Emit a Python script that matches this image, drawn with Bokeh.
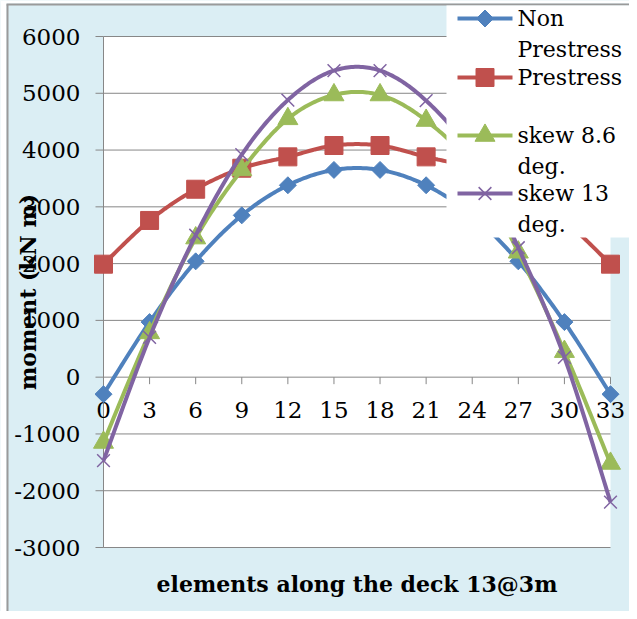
import numpy as np
from bokeh.plotting import figure
from bokeh.models import Range1d
from bokeh.core.properties import value
from bokeh.embed import file_html
from bokeh.resources import INLINE

# ---- data ----
elements = [0, 3, 6, 9, 12, 15, 18, 21, 24, 27, 30, 33]
non_prestress = [-300, 970, 2040, 2850, 3380, 3650, 3650, 3380, 2850, 2040, 970, -300]
prestress = [1990, 2760, 3310, 3680, 3880, 4080, 4080, 3880, 3680, 3310, 2760, 1990]
skew_8_6 = [-1150, 780, 2450, 3650, 4550, 4970, 4970, 4520, 3700, 2200, 450, -1520]
skew_13 = [-1470, 700, 2500, 3920, 4880, 5400, 5400, 4870, 3900, 2280, 350, -2200]
y_ticks = [-3000, -2000, -1000, 0, 1000, 2000, 3000, 4000, 5000, 6000]
legend_labels = ["Non\nPrestress", "Prestress", "skew 8.6\ndeg.", "skew 13\ndeg."]
x_title = "elements along the deck 13@3m"
y_title = "moment (kN m)"

BG = "#DBEEF4"
GRID = "#878787"
SERIF = "DejaVu Serif"

# ---- layout (picture pixels) ----
W, H = 629, 611
OFF = 0
FX0, FX1 = 103, 610          # x of first / last category
FY0, FY1 = 36, 547           # y of top / bottom y tick

x_lo, x_hi = min(elements), max(elements)
y_lo, y_hi = min(y_ticks), max(y_ticks)
PPX = (FX1 - FX0) / (x_hi - x_lo)
PPY = (FY1 - FY0) / (y_hi - y_lo)


def dx(px):
    return x_lo + (px - FX0) / PPX


def dy(py):
    return y_hi - (py - FY0) / PPY


def smooth(xs, ys, n=24):
    """Excel-like smoothed line (Catmull-Rom Bezier) through the data points."""
    pts = np.column_stack([np.asarray(xs, float), np.asarray(ys, float)])
    padded = np.vstack([pts[0], pts, pts[-1]])
    out = []
    t = np.linspace(0, 1, n, endpoint=False)[:, None]
    for i in range(len(pts) - 1):
        p0, p1, p2, p3 = padded[i], padded[i + 1], padded[i + 2], padded[i + 3]
        c1 = p1 + (p2 - p0) / 6.0
        c2 = p2 - (p3 - p1) / 6.0
        seg = ((1 - t) ** 3) * p1 + 3 * ((1 - t) ** 2) * t * c1 + 3 * (1 - t) * t ** 2 * c2 + t ** 3 * p2
        out.append(seg)
    out.append(pts[-1:])
    arr = np.vstack(out)
    return arr[:, 0], arr[:, 1]


p = figure(width=W, height=H, output_backend="svg", toolbar_location=None,
           x_range=Range1d(dx(OFF), dx(OFF + W)), y_range=Range1d(dy(OFF + H), dy(OFF)),
           x_axis_location=None, y_axis_location=None, min_border=0,
           background_fill_color=BG, border_fill_color=BG, outline_line_color=None)
p.xgrid.visible = False
p.ygrid.visible = False

# white page strips outside the chart box, and the chart border (top / left)
p.quad(left=[dx(0), dx(0)], right=[dx(6), dx(W)], top=[dy(0), dy(0)], bottom=[dy(H), dy(3)],
       fill_color="white", line_color=None, level="image")
p.segment(x0=[dx(6), dx(7)], y0=[dy(4), dy(4)], x1=[dx(W), dx(7)], y1=[dy(4), dy(H)],
          line_color="#9A9A9A", line_width=2, level="image")

# white plot area
p.quad(left=[x_lo], right=[x_hi], bottom=[y_lo], top=[y_hi], fill_color="white",
       line_color=None, level="image")
# horizontal gridlines + y tick marks
p.segment(x0=[x_lo] * len(y_ticks), y0=y_ticks, x1=[x_hi] * len(y_ticks), y1=y_ticks,
          line_color=GRID, line_width=1, level="underlay")
p.ray(x=[x_lo] * len(y_ticks), y=y_ticks, length=8, length_units="screen", angle=np.pi,
      line_color=GRID, line_width=1, level="underlay")
# y axis line
p.segment(x0=[x_lo], y0=[y_lo], x1=[x_lo], y1=[y_hi], line_color=GRID, line_width=1,
          level="underlay")
# x axis (crosses at 0) tick marks
p.ray(x=elements, y=[0] * len(elements), length=7, length_units="screen", angle=-np.pi / 2,
      line_color=GRID, line_width=1, level="underlay")

# tick labels
p.text(x=[x_lo] * len(y_ticks), y=y_ticks, text=[str(v) for v in y_ticks], x_offset=-23,
       text_align="right", text_baseline="middle", text_font=value(SERIF),
       text_font_size="23px", text_color="black")
p.text(x=elements, y=[0] * len(elements), text=[str(v) for v in elements], y_offset=33,
       text_align="center", text_baseline="middle", text_font=value(SERIF),
       text_font_size="23px", text_color="black")

# axis titles
p.text(x=[x_lo], y=[(y_lo + y_hi) / 2], text=[y_title], x_offset=-76, angle=np.pi / 2,
       text_align="center", text_baseline="middle", text_font=value(SERIF),
       text_font_style="bold", text_font_size="22px", text_color="black")
p.text(x=[(x_lo + x_hi) / 2], y=[y_lo], text=[x_title], y_offset=36,
       text_align="center", text_baseline="middle", text_font=value(SERIF),
       text_font_style="bold", text_font_size="22px", text_color="black")

series = [
    (non_prestress, "#4F81BD", dict(marker="square", size=12, angle=np.pi / 4,
                                     fill_color="#4F81BD", line_color="#4F81BD")),
    (prestress, "#C0504D", dict(marker="square", size=18,
                                 fill_color="#C0504D", line_color="#C0504D")),
    (skew_8_6, "#9BBB59", dict(marker="triangle", size=20,
                                fill_color="#9BBB59", line_color="#9BBB59")),
    (skew_13, "#8064A2", dict(marker="x", size=18, line_width=1.5, line_color="#8064A2")),
]

for ys, col, mk in series:
    sx, sy = smooth(elements, ys)
    p.line(sx, sy, line_color=col, line_width=4)
    p.scatter(elements, ys, **mk)

# ---- legend (drawn in place, overlapping the plot like the original) ----
LG_L, LG_R, LG_T, LG_B = 446, 633, 5, 237
p.quad(left=[dx(LG_L)], right=[dx(LG_R)], top=[dy(LG_T)], bottom=[dy(LG_B)],
       fill_color="white", line_color=None)
item_y = [18, 77, 135, 193]
LINE_PITCH = 31
for (ys, col, mk), lab, iy in zip(series, legend_labels, item_y):
    p.line([dx(457), dx(512)], [dy(iy), dy(iy)], line_color=col, line_width=4)
    p.scatter([dx(484.5)], [dy(iy)], **mk)
    lines = lab.split("\n")
    p.text(x=[dx(517)] * len(lines), y=[dy(iy + k * LINE_PITCH) for k in range(len(lines))],
           text=lines, text_align="left", text_baseline="middle", text_font=value(SERIF),
           text_font_size="22px", text_color="black")

open("out.html", "w").write(file_html(p, INLINE))
